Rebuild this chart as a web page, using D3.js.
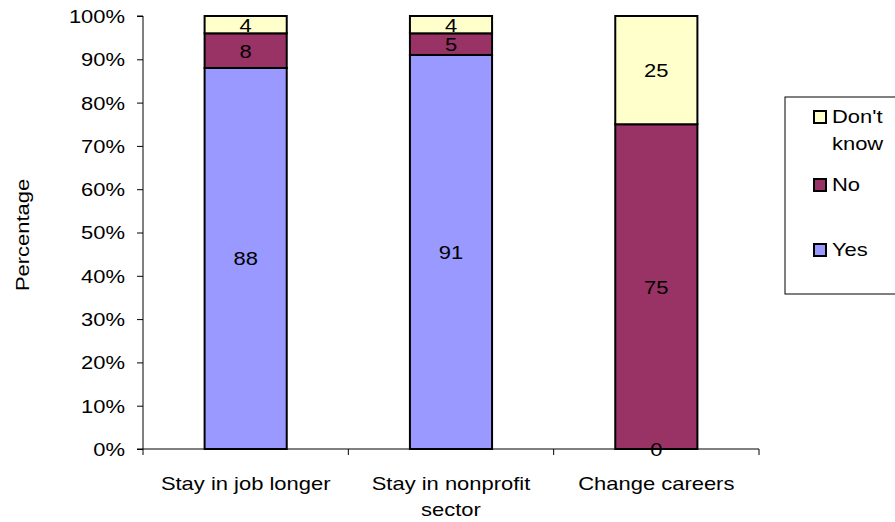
<!DOCTYPE html>
<html><head><meta charset="utf-8">
<script src="https://cdn.jsdelivr.net/npm/d3@7"></script>
<style>body{margin:0;background:#fff}svg{display:block}text{font-family:"Liberation Sans",Arial,sans-serif;fill:#000}</style>
</head><body>
<svg id="c" width="895" height="522"></svg>
<script>
const categories = [["Stay in job longer"], ["Stay in nonprofit", "sector"], ["Change careers"]];
const seriesNames = ["Yes", "No", "Don't know"];
const yesValues = [88, 91, 0];
const noValues = [8, 5, 75];
const dontKnowValues = [4, 4, 25];
const yTicks = [0, 10, 20, 30, 40, 50, 60, 70, 80, 90, 100];
const colors = ["#9999FF", "#993366", "#FFFFCC"];

(function () {
const svg = d3.select("#c");
const pLeft = 143, pRight = 759, pTop = 16, pBottom = 449;
const fs = 18, sx = 1.22;
const keys = categories.map((c, i) => i);
const x = d3.scaleBand().domain(keys).range([pLeft, pRight]).paddingInner(0.6).paddingOuter(0.3);
const xOuter = d3.scaleBand().domain(keys).range([pLeft, pRight]);
const y = d3.scaleLinear().domain([0, 100]).range([pBottom, pTop]);

const rows = keys.map(i => ({i, Yes: yesValues[i], No: noValues[i], "Don't know": dontKnowValues[i]}));
const stack = d3.stack().keys(seriesNames)(rows);

const yAxis = d3.axisLeft(y).tickValues(yTicks).tickFormat(d => d + "%").tickSize(6).tickPadding(12);
const gy = svg.append("g").attr("transform", `translate(${pLeft},0)`).call(yAxis);
gy.selectAll("text").style("font-size", fs + "px").style("font-family", '"Liberation Sans",Arial,sans-serif')
  .attr("fill", "#000").attr("x", -18 / sx).attr("dy", "0.36em").attr("transform", `scale(${sx},1)`);
gy.select(".domain").attr("d", `M-6,${pTop}H0V${pBottom}H-6`).attr("stroke", "#000");
gy.selectAll(".tick line").attr("stroke", "#000");

svg.append("line").attr("x1", pLeft).attr("x2", pRight).attr("y1", pBottom).attr("y2", pBottom).attr("stroke", "#000");
const catTicks = [pLeft].concat(keys.map(k => xOuter(k) + xOuter.bandwidth()));
svg.selectAll(".ct").data(catTicks).join("line")
  .attr("x1", d => d).attr("x2", d => d).attr("y1", pBottom).attr("y2", pBottom + 6).attr("stroke", "#000");

const cl = svg.selectAll(".cl").data(keys).join("text")
  .attr("text-anchor", "middle").style("font-size", fs + "px").attr("transform", `scale(${sx},1)`);
cl.each(function(k) {
  const t = d3.select(this);
  categories[k].forEach((line, j) => {
    t.append("tspan").attr("x", (xOuter(k) + xOuter.bandwidth() / 2) / sx).attr("y", pBottom + 41 + j * 26).text(line);
  });
});

stack.forEach((s, si) => {
  svg.append("g").selectAll("rect").data(s).join("rect")
    .attr("x", d => x(d.data.i))
    .attr("width", x.bandwidth())
    .attr("y", d => y(d[1]))
    .attr("height", d => y(d[0]) - y(d[1]))
    .attr("fill", colors[si])
    .attr("stroke", "#000").attr("stroke-width", 2);
});
stack.forEach((s, si) => {
  svg.append("g").selectAll("text").data(s).join("text")
    .attr("x", d => (x(d.data.i) + x.bandwidth() / 2) / sx)
    .attr("y", d => (y(d[0]) + y(d[1])) / 2 + 7)
    .attr("transform", `scale(${sx},1)`)
    .attr("text-anchor", "middle").style("font-size", fs + "px")
    .text(d => d[1] - d[0]);
});

svg.append("text").attr("transform", `translate(29,235) scale(${1 / sx},1) rotate(-90)`)
  .attr("text-anchor", "middle").style("font-size", (fs * sx) + "px").text("Percentage");

const lg = svg.append("g");
lg.append("rect").attr("x", 785).attr("y", 97).attr("width", 120).attr("height", 197)
  .attr("fill", "#fff").attr("stroke", "#000").attr("stroke-width", 1);
const legendItems = [
  {lines: ["Don't", "know"], c: colors[2], y: 111},
  {lines: ["No"], c: colors[1], y: 179},
  {lines: ["Yes"], c: colors[0], y: 244}
];
legendItems.forEach(it => {
  lg.append("rect").attr("x", 814).attr("y", it.y).attr("width", 12).attr("height", 12)
    .attr("fill", it.c).attr("stroke", "#000").attr("stroke-width", 2);
  const t = lg.append("text").style("font-size", fs + "px").attr("transform", `scale(${sx},1)`);
  it.lines.forEach((l, j) => t.append("tspan").attr("x", 832 / sx).attr("y", it.y + 12.5 + j * 26.5).text(l));
});
})();
</script>
</body></html>
